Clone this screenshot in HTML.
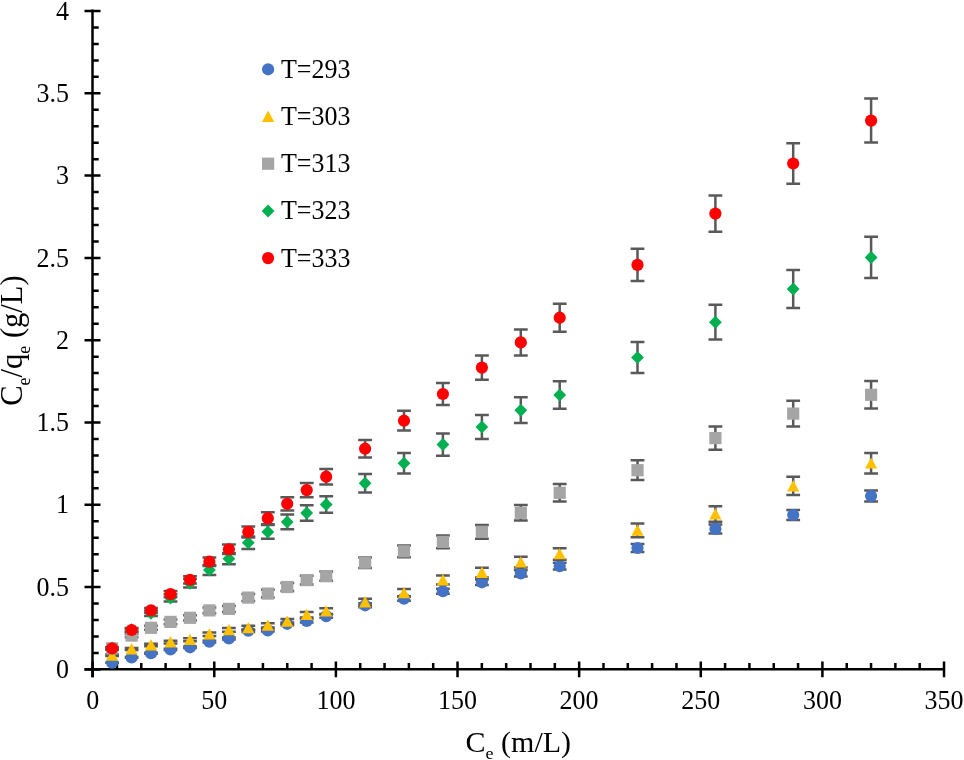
<!DOCTYPE html>
<html><head><meta charset="utf-8"><title>Langmuir isotherm</title>
<style>
html,body{margin:0;padding:0;background:#fff;}
svg{display:block;will-change:transform;}
text{font-family:"Liberation Serif",serif;fill:#000;}
</style></head><body>
<svg width="964" height="760" viewBox="0 0 964 760">
<rect width="964" height="760" fill="#fff"/>

<g stroke="#000" stroke-width="2.5" fill="none">
<path d="M92.5 9.6V677.3"/>
<path d="M84.5 669.3H945.0"/>
<path d="M84.5 669.40H100.5M92.5 652.94H98.7M92.5 636.48H98.7M92.5 620.02H98.7M92.5 603.56H98.7M84.5 587.10H100.5M92.5 570.64H98.7M92.5 554.18H98.7M92.5 537.72H98.7M92.5 521.26H98.7M84.5 504.80H100.5M92.5 488.34H98.7M92.5 471.88H98.7M92.5 455.42H98.7M92.5 438.96H98.7M84.5 422.50H100.5M92.5 406.04H98.7M92.5 389.58H98.7M92.5 373.12H98.7M92.5 356.66H98.7M84.5 340.20H100.5M92.5 323.74H98.7M92.5 307.28H98.7M92.5 290.82H98.7M92.5 274.36H98.7M84.5 257.90H100.5M92.5 241.44H98.7M92.5 224.98H98.7M92.5 208.52H98.7M92.5 192.06H98.7M84.5 175.60H100.5M92.5 159.14H98.7M92.5 142.68H98.7M92.5 126.22H98.7M92.5 109.76H98.7M84.5 93.30H100.5M92.5 76.84H98.7M92.5 60.38H98.7M92.5 43.92H98.7M92.5 27.46H98.7M84.5 11.00H100.5M92.65 661.6V677.3M116.98 663.1V669.3M141.30 663.1V669.3M165.62 663.1V669.3M189.95 663.1V669.3M214.28 661.6V677.3M238.60 663.1V669.3M262.93 663.1V669.3M287.25 663.1V669.3M311.58 663.1V669.3M335.90 661.6V677.3M360.23 663.1V669.3M384.55 663.1V669.3M408.88 663.1V669.3M433.20 663.1V669.3M457.52 661.6V677.3M481.85 663.1V669.3M506.18 663.1V669.3M530.50 663.1V669.3M554.83 663.1V669.3M579.15 661.6V677.3M603.48 663.1V669.3M627.80 663.1V669.3M652.12 663.1V669.3M676.45 663.1V669.3M700.77 661.6V677.3M725.10 663.1V669.3M749.42 663.1V669.3M773.75 663.1V669.3M798.08 663.1V669.3M822.40 661.6V677.3M846.73 663.1V669.3M871.05 663.1V669.3M895.38 663.1V669.3M919.70 663.1V669.3M944.02 661.6V677.3"/>
</g>
<g id="blue">
<path d="M112.1 662.4V662.8M105.2 662.4h13.8M105.2 662.8h13.8M131.6 657.1V657.8M124.7 657.1h13.8M124.7 657.8h13.8M151.0 652.7V653.7M144.1 652.7h13.8M144.1 653.7h13.8M170.5 648.8V650.0M163.6 648.8h13.8M163.6 650.0h13.8M190.0 646.6V648.0M183.1 646.6h13.8M183.1 648.0h13.8M209.4 640.7V642.5M202.5 640.7h13.8M202.5 642.5h13.8M228.9 637.4V639.4M222.0 637.4h13.8M222.0 639.4h13.8M248.3 629.5V632.0M241.4 629.5h13.8M241.4 632.0h13.8M267.8 629.2V631.6M260.9 629.2h13.8M260.9 631.6h13.8M287.2 622.4V625.3M280.4 622.4h13.8M280.4 625.3h13.8M306.7 619.3V622.4M299.8 619.3h13.8M299.8 622.4h13.8M326.2 614.4V617.8M319.3 614.4h13.8M319.3 617.8h13.8M365.1 603.3V607.3M358.2 603.3h13.8M358.2 607.3h13.8M404.0 596.3V600.8M397.1 596.3h13.8M397.1 600.8h13.8M442.9 588.7V593.7M436.0 588.7h13.8M436.0 593.7h13.8M481.9 579.5V585.0M475.0 579.5h13.8M475.0 585.0h13.8M520.8 570.3V576.4M513.9 570.3h13.8M513.9 576.4h13.8M559.7 562.8V569.4M552.8 562.8h13.8M552.8 569.4h13.8M637.5 544.1V551.9M630.6 544.1h13.8M630.6 551.9h13.8M715.4 524.4V533.4M708.5 524.4h13.8M708.5 533.4h13.8M793.2 510.1V519.9M786.3 510.1h13.8M786.3 519.9h13.8M871.1 490.4V501.5M864.2 490.4h13.8M864.2 501.5h13.8" stroke="#595959" stroke-width="2.5" fill="none"/>
<circle cx="112.1" cy="662.6" r="6.1" fill="#4472C4"/>
<circle cx="131.6" cy="657.5" r="6.1" fill="#4472C4"/>
<circle cx="151.0" cy="653.2" r="6.1" fill="#4472C4"/>
<circle cx="170.5" cy="649.4" r="6.1" fill="#4472C4"/>
<circle cx="190.0" cy="647.3" r="6.1" fill="#4472C4"/>
<circle cx="209.4" cy="641.6" r="6.1" fill="#4472C4"/>
<circle cx="228.9" cy="638.4" r="6.1" fill="#4472C4"/>
<circle cx="248.3" cy="630.7" r="6.1" fill="#4472C4"/>
<circle cx="267.8" cy="630.4" r="6.1" fill="#4472C4"/>
<circle cx="287.2" cy="623.8" r="6.1" fill="#4472C4"/>
<circle cx="306.7" cy="620.9" r="6.1" fill="#4472C4"/>
<circle cx="326.2" cy="616.1" r="6.1" fill="#4472C4"/>
<circle cx="365.1" cy="605.3" r="6.1" fill="#4472C4"/>
<circle cx="404.0" cy="598.6" r="6.1" fill="#4472C4"/>
<circle cx="442.9" cy="591.2" r="6.1" fill="#4472C4"/>
<circle cx="481.9" cy="582.3" r="6.1" fill="#4472C4"/>
<circle cx="520.8" cy="573.4" r="6.1" fill="#4472C4"/>
<circle cx="559.7" cy="566.1" r="6.1" fill="#4472C4"/>
<circle cx="637.5" cy="548.0" r="6.1" fill="#4472C4"/>
<circle cx="715.4" cy="528.9" r="6.1" fill="#4472C4"/>
<circle cx="793.2" cy="515.0" r="6.1" fill="#4472C4"/>
<circle cx="871.1" cy="496.0" r="6.1" fill="#4472C4"/>
</g>
<g id="yellow">
<path d="M112.1 654.6V655.9M105.2 654.6h13.8M105.2 655.9h13.8M131.6 648.0V650.0M124.7 648.0h13.8M124.7 650.0h13.8M151.0 643.8V646.2M144.1 643.8h13.8M144.1 646.2h13.8M170.5 640.7V643.4M163.6 640.7h13.8M163.6 643.4h13.8M190.0 638.2V641.2M183.1 638.2h13.8M183.1 641.2h13.8M209.4 632.4V635.9M202.5 632.4h13.8M202.5 635.9h13.8M228.9 627.9V631.8M222.0 627.9h13.8M222.0 631.8h13.8M248.3 625.8V630.0M241.4 625.8h13.8M241.4 630.0h13.8M267.8 623.2V627.6M260.9 623.2h13.8M260.9 627.6h13.8M287.2 618.9V623.7M280.4 618.9h13.8M280.4 623.7h13.8M306.7 612.0V617.4M299.8 612.0h13.8M299.8 617.4h13.8M326.2 608.2V614.0M319.3 608.2h13.8M319.3 614.0h13.8M365.1 598.7V605.4M358.2 598.7h13.8M358.2 605.4h13.8M404.0 589.0V596.7M397.1 589.0h13.8M397.1 596.7h13.8M442.9 575.6V584.5M436.0 575.6h13.8M436.0 584.5h13.8M481.9 567.7V577.4M475.0 567.7h13.8M475.0 577.4h13.8M520.8 556.8V567.5M513.9 556.8h13.8M513.9 567.5h13.8M559.7 548.2V559.7M552.8 548.2h13.8M552.8 559.7h13.8M637.5 523.4V537.2M630.6 523.4h13.8M630.6 537.2h13.8M715.4 506.3V521.8M708.5 506.3h13.8M708.5 521.8h13.8M793.2 476.8V495.1M786.3 476.8h13.8M786.3 495.1h13.8M871.1 453.0V473.5M864.2 453.0h13.8M864.2 473.5h13.8" stroke="#595959" stroke-width="2.5" fill="none"/>
<path d="M112.1 649.4L118.2 660.7H106.0Z" fill="#FFC000"/>
<path d="M131.6 643.1L137.7 654.4H125.5Z" fill="#FFC000"/>
<path d="M151.0 639.1L157.1 650.4H144.9Z" fill="#FFC000"/>
<path d="M170.5 636.1L176.6 647.4H164.4Z" fill="#FFC000"/>
<path d="M190.0 633.8L196.1 645.1H183.9Z" fill="#FFC000"/>
<path d="M209.4 628.3L215.5 639.6H203.3Z" fill="#FFC000"/>
<path d="M228.9 623.9L235.0 635.2H222.8Z" fill="#FFC000"/>
<path d="M248.3 622.0L254.4 633.3H242.2Z" fill="#FFC000"/>
<path d="M267.8 619.5L273.9 630.8H261.7Z" fill="#FFC000"/>
<path d="M287.2 615.4L293.4 626.7H281.1Z" fill="#FFC000"/>
<path d="M306.7 608.8L312.8 620.1H300.6Z" fill="#FFC000"/>
<path d="M326.2 605.2L332.3 616.5H320.1Z" fill="#FFC000"/>
<path d="M365.1 596.1L371.2 607.4H359.0Z" fill="#FFC000"/>
<path d="M404.0 587.0L410.1 598.3H397.9Z" fill="#FFC000"/>
<path d="M442.9 574.1L449.0 585.4H436.8Z" fill="#FFC000"/>
<path d="M481.9 566.6L488.0 577.9H475.8Z" fill="#FFC000"/>
<path d="M520.8 556.3L526.9 567.6H514.7Z" fill="#FFC000"/>
<path d="M559.7 548.0L565.8 559.3H553.6Z" fill="#FFC000"/>
<path d="M637.5 524.4L643.6 535.7H631.4Z" fill="#FFC000"/>
<path d="M715.4 508.1L721.5 519.4H709.3Z" fill="#FFC000"/>
<path d="M793.2 480.1L799.3 491.4H787.1Z" fill="#FFC000"/>
<path d="M871.1 457.4L877.2 468.6H865.0Z" fill="#FFC000"/>
</g>
<g id="gray">
<path d="M112.1 647.4V649.5M105.2 647.4h13.8M105.2 649.5h13.8M131.6 633.9V637.3M124.7 633.9h13.8M124.7 637.3h13.8M151.0 625.7V629.8M144.1 625.7h13.8M144.1 629.8h13.8M170.5 619.6V624.3M163.6 619.6h13.8M163.6 624.3h13.8M190.0 615.2V620.4M183.1 615.2h13.8M183.1 620.4h13.8M209.4 607.5V613.3M202.5 607.5h13.8M202.5 613.3h13.8M228.9 605.9V611.9M222.0 605.9h13.8M222.0 611.9h13.8M248.3 594.0V601.1M241.4 594.0h13.8M241.4 601.1h13.8M267.8 589.8V597.4M260.9 589.8h13.8M260.9 597.4h13.8M287.2 582.9V591.1M280.4 582.9h13.8M280.4 591.1h13.8M306.7 575.7V584.6M299.8 575.7h13.8M299.8 584.6h13.8M326.2 571.5V580.8M319.3 571.5h13.8M319.3 580.8h13.8M365.1 557.4V568.0M358.2 557.4h13.8M358.2 568.0h13.8M404.0 545.4V557.2M397.1 545.4h13.8M397.1 557.2h13.8M442.9 535.6V548.3M436.0 535.6h13.8M436.0 548.3h13.8M481.9 524.9V538.7M475.0 524.9h13.8M475.0 538.7h13.8M520.8 505.0V520.6M513.9 505.0h13.8M513.9 520.6h13.8M559.7 484.0V501.6M552.8 484.0h13.8M552.8 501.6h13.8M637.5 460.2V480.1M630.6 460.2h13.8M630.6 480.1h13.8M715.4 426.6V449.7M708.5 426.6h13.8M708.5 449.7h13.8M793.2 400.8V426.4M786.3 400.8h13.8M786.3 426.4h13.8M871.1 381.1V408.5M864.2 381.1h13.8M864.2 408.5h13.8" stroke="#595959" stroke-width="2.5" fill="none"/>
<rect x="106.0" y="642.3" width="12.2" height="12.2" fill="#A5A5A5"/>
<rect x="125.5" y="629.5" width="12.2" height="12.2" fill="#A5A5A5"/>
<rect x="144.9" y="621.7" width="12.2" height="12.2" fill="#A5A5A5"/>
<rect x="164.4" y="615.8" width="12.2" height="12.2" fill="#A5A5A5"/>
<rect x="183.9" y="611.7" width="12.2" height="12.2" fill="#A5A5A5"/>
<rect x="203.3" y="604.3" width="12.2" height="12.2" fill="#A5A5A5"/>
<rect x="222.8" y="602.8" width="12.2" height="12.2" fill="#A5A5A5"/>
<rect x="242.2" y="591.5" width="12.2" height="12.2" fill="#A5A5A5"/>
<rect x="261.7" y="587.5" width="12.2" height="12.2" fill="#A5A5A5"/>
<rect x="281.1" y="580.9" width="12.2" height="12.2" fill="#A5A5A5"/>
<rect x="300.6" y="574.0" width="12.2" height="12.2" fill="#A5A5A5"/>
<rect x="320.1" y="570.1" width="12.2" height="12.2" fill="#A5A5A5"/>
<rect x="359.0" y="556.6" width="12.2" height="12.2" fill="#A5A5A5"/>
<rect x="397.9" y="545.2" width="12.2" height="12.2" fill="#A5A5A5"/>
<rect x="436.8" y="535.8" width="12.2" height="12.2" fill="#A5A5A5"/>
<rect x="475.8" y="525.7" width="12.2" height="12.2" fill="#A5A5A5"/>
<rect x="514.7" y="506.7" width="12.2" height="12.2" fill="#A5A5A5"/>
<rect x="553.6" y="486.7" width="12.2" height="12.2" fill="#A5A5A5"/>
<rect x="631.4" y="464.1" width="12.2" height="12.2" fill="#A5A5A5"/>
<rect x="709.3" y="432.0" width="12.2" height="12.2" fill="#A5A5A5"/>
<rect x="787.1" y="407.5" width="12.2" height="12.2" fill="#A5A5A5"/>
<rect x="865.0" y="388.7" width="12.2" height="12.2" fill="#A5A5A5"/>
</g>
<g id="green">
<path d="M112.1 647.2V649.3M105.2 647.2h13.8M105.2 649.3h13.8M131.6 627.9V631.8M124.7 627.9h13.8M124.7 631.8h13.8M151.0 610.4V616.0M144.1 610.4h13.8M144.1 616.0h13.8M170.5 594.3V601.4M163.6 594.3h13.8M163.6 601.4h13.8M190.0 579.0V587.5M183.1 579.0h13.8M183.1 587.5h13.8M209.4 565.1V575.0M202.5 565.1h13.8M202.5 575.0h13.8M228.9 553.2V564.2M222.0 553.2h13.8M222.0 564.2h13.8M248.3 536.5V549.1M241.4 536.5h13.8M241.4 549.1h13.8M267.8 525.0V538.7M260.9 525.0h13.8M260.9 538.7h13.8M287.2 514.5V529.3M280.4 514.5h13.8M280.4 529.3h13.8M306.7 505.2V520.8M299.8 505.2h13.8M299.8 520.8h13.8M326.2 496.3V512.7M319.3 496.3h13.8M319.3 512.7h13.8M365.1 474.0V492.6M358.2 474.0h13.8M358.2 492.6h13.8M404.0 453.0V473.6M397.1 453.0h13.8M397.1 473.6h13.8M442.9 433.4V455.8M436.0 433.4h13.8M436.0 455.8h13.8M481.9 414.9V439.1M475.0 414.9h13.8M475.0 439.1h13.8M520.8 397.3V423.1M513.9 397.3h13.8M513.9 423.1h13.8M559.7 381.3V408.7M552.8 381.3h13.8M552.8 408.7h13.8M637.5 342.0V373.1M630.6 342.0h13.8M630.6 373.1h13.8M715.4 304.8V339.5M708.5 304.8h13.8M708.5 339.5h13.8M793.2 269.9V307.9M786.3 269.9h13.8M786.3 307.9h13.8M871.1 236.8V278.0M864.2 236.8h13.8M864.2 278.0h13.8" stroke="#595959" stroke-width="2.5" fill="none"/>
<path d="M112.1 641.8L118.5 648.3L112.1 654.8L105.7 648.3Z" fill="#00B050"/>
<path d="M131.6 623.3L138.0 629.8L131.6 636.3L125.2 629.8Z" fill="#00B050"/>
<path d="M151.0 606.7L157.4 613.2L151.0 619.7L144.6 613.2Z" fill="#00B050"/>
<path d="M170.5 591.4L176.9 597.9L170.5 604.4L164.1 597.9Z" fill="#00B050"/>
<path d="M190.0 576.7L196.4 583.2L190.0 589.7L183.6 583.2Z" fill="#00B050"/>
<path d="M209.4 563.6L215.8 570.1L209.4 576.6L203.0 570.1Z" fill="#00B050"/>
<path d="M228.9 552.2L235.3 558.7L228.9 565.2L222.5 558.7Z" fill="#00B050"/>
<path d="M248.3 536.3L254.7 542.8L248.3 549.3L241.9 542.8Z" fill="#00B050"/>
<path d="M267.8 525.4L274.2 531.9L267.8 538.4L261.4 531.9Z" fill="#00B050"/>
<path d="M287.2 515.4L293.6 521.9L287.2 528.4L280.9 521.9Z" fill="#00B050"/>
<path d="M306.7 506.5L313.1 513.0L306.7 519.5L300.3 513.0Z" fill="#00B050"/>
<path d="M326.2 498.0L332.6 504.5L326.2 511.0L319.8 504.5Z" fill="#00B050"/>
<path d="M365.1 476.8L371.5 483.3L365.1 489.8L358.7 483.3Z" fill="#00B050"/>
<path d="M404.0 456.8L410.4 463.3L404.0 469.8L397.6 463.3Z" fill="#00B050"/>
<path d="M442.9 438.1L449.3 444.6L442.9 451.1L436.5 444.6Z" fill="#00B050"/>
<path d="M481.9 420.5L488.2 427.0L481.9 433.5L475.5 427.0Z" fill="#00B050"/>
<path d="M520.8 403.7L527.2 410.2L520.8 416.7L514.4 410.2Z" fill="#00B050"/>
<path d="M559.7 388.5L566.1 395.0L559.7 401.5L553.3 395.0Z" fill="#00B050"/>
<path d="M637.5 351.1L643.9 357.6L637.5 364.1L631.1 357.6Z" fill="#00B050"/>
<path d="M715.4 315.7L721.8 322.2L715.4 328.7L709.0 322.2Z" fill="#00B050"/>
<path d="M793.2 282.4L799.6 288.9L793.2 295.4L786.8 288.9Z" fill="#00B050"/>
<path d="M871.1 250.9L877.5 257.4L871.1 263.9L864.7 257.4Z" fill="#00B050"/>
</g>
<g id="red">
<path d="M112.1 647.6V649.2M105.2 647.6h13.8M105.2 649.2h13.8M131.6 628.4V631.6M124.7 628.4h13.8M124.7 631.6h13.8M151.0 608.1V612.7M144.1 608.1h13.8M144.1 612.7h13.8M170.5 591.1V597.1M163.6 591.1h13.8M163.6 597.1h13.8M190.0 576.2V583.4M183.1 576.2h13.8M183.1 583.4h13.8M209.4 557.4V566.0M202.5 557.4h13.8M202.5 566.0h13.8M228.9 544.5V554.1M222.0 544.5h13.8M222.0 554.1h13.8M248.3 526.4V537.4M241.4 526.4h13.8M241.4 537.4h13.8M267.8 512.2V524.3M260.9 512.2h13.8M260.9 524.3h13.8M287.2 497.2V510.4M280.4 497.2h13.8M280.4 510.4h13.8M306.7 483.0V497.3M299.8 483.0h13.8M299.8 497.3h13.8M326.2 469.1V484.4M319.3 469.1h13.8M319.3 484.4h13.8M365.1 439.9V457.5M358.2 439.9h13.8M358.2 457.5h13.8M404.0 410.8V430.6M397.1 410.8h13.8M397.1 430.6h13.8M442.9 383.0V405.0M436.0 383.0h13.8M436.0 405.0h13.8M481.9 355.6V379.7M475.0 355.6h13.8M475.0 379.7h13.8M520.8 329.4V355.5M513.9 329.4h13.8M513.9 355.5h13.8M559.7 303.7V331.8M552.8 303.7h13.8M552.8 331.8h13.8M637.5 248.7V281.1M630.6 248.7h13.8M630.6 281.1h13.8M715.4 195.4V231.8M708.5 195.4h13.8M708.5 231.8h13.8M793.2 143.3V183.7M786.3 143.3h13.8M786.3 183.7h13.8M871.1 98.6V142.5M864.2 98.6h13.8M864.2 142.5h13.8" stroke="#595959" stroke-width="2.5" fill="none"/>
<circle cx="112.1" cy="648.4" r="6.1" fill="#FF0000"/>
<circle cx="131.6" cy="630.0" r="6.1" fill="#FF0000"/>
<circle cx="151.0" cy="610.4" r="6.1" fill="#FF0000"/>
<circle cx="170.5" cy="594.1" r="6.1" fill="#FF0000"/>
<circle cx="190.0" cy="579.8" r="6.1" fill="#FF0000"/>
<circle cx="209.4" cy="561.7" r="6.1" fill="#FF0000"/>
<circle cx="228.9" cy="549.3" r="6.1" fill="#FF0000"/>
<circle cx="248.3" cy="531.9" r="6.1" fill="#FF0000"/>
<circle cx="267.8" cy="518.2" r="6.1" fill="#FF0000"/>
<circle cx="287.2" cy="503.8" r="6.1" fill="#FF0000"/>
<circle cx="306.7" cy="490.1" r="6.1" fill="#FF0000"/>
<circle cx="326.2" cy="476.7" r="6.1" fill="#FF0000"/>
<circle cx="365.1" cy="448.7" r="6.1" fill="#FF0000"/>
<circle cx="404.0" cy="420.7" r="6.1" fill="#FF0000"/>
<circle cx="442.9" cy="394.0" r="6.1" fill="#FF0000"/>
<circle cx="481.9" cy="367.6" r="6.1" fill="#FF0000"/>
<circle cx="520.8" cy="342.4" r="6.1" fill="#FF0000"/>
<circle cx="559.7" cy="317.7" r="6.1" fill="#FF0000"/>
<circle cx="637.5" cy="264.9" r="6.1" fill="#FF0000"/>
<circle cx="715.4" cy="213.6" r="6.1" fill="#FF0000"/>
<circle cx="793.2" cy="163.5" r="6.1" fill="#FF0000"/>
<circle cx="871.1" cy="120.6" r="6.1" fill="#FF0000"/>
</g>
<g id="ticklabels">
<text transform="translate(69.0,678.0) scale(1,1.07)" font-size="26" text-anchor="end">0</text>
<text transform="translate(69.0,595.7) scale(1,1.07)" font-size="26" text-anchor="end">0.5</text>
<text transform="translate(69.0,513.4) scale(1,1.07)" font-size="26" text-anchor="end">1</text>
<text transform="translate(69.0,431.1) scale(1,1.07)" font-size="26" text-anchor="end">1.5</text>
<text transform="translate(69.0,348.8) scale(1,1.07)" font-size="26" text-anchor="end">2</text>
<text transform="translate(69.0,266.5) scale(1,1.07)" font-size="26" text-anchor="end">2.5</text>
<text transform="translate(69.0,184.2) scale(1,1.07)" font-size="26" text-anchor="end">3</text>
<text transform="translate(69.0,101.9) scale(1,1.07)" font-size="26" text-anchor="end">3.5</text>
<text transform="translate(69.0,19.6) scale(1,1.07)" font-size="26" text-anchor="end">4</text>
<text transform="translate(92.7,709.2) scale(1,1.07)" font-size="26" text-anchor="middle">0</text>
<text transform="translate(214.3,709.2) scale(1,1.07)" font-size="26" text-anchor="middle">50</text>
<text transform="translate(335.9,709.2) scale(1,1.07)" font-size="26" text-anchor="middle">100</text>
<text transform="translate(457.5,709.2) scale(1,1.07)" font-size="26" text-anchor="middle">150</text>
<text transform="translate(579.1,709.2) scale(1,1.07)" font-size="26" text-anchor="middle">200</text>
<text transform="translate(700.8,709.2) scale(1,1.07)" font-size="26" text-anchor="middle">250</text>
<text transform="translate(822.4,709.2) scale(1,1.07)" font-size="26" text-anchor="middle">300</text>
<text transform="translate(944.0,709.2) scale(1,1.07)" font-size="26" text-anchor="middle">350</text>
</g>
<text transform="translate(518.3,751.5) scale(1,0.985)" font-size="30" text-anchor="middle">C<tspan font-size="18" dy="7.6">e</tspan><tspan dy="-7.6"> (m/L)</tspan></text>
<text transform="translate(22.4,340.6) rotate(-90) scale(1,1.02)" font-size="30.5" text-anchor="middle">C<tspan font-size="18" dy="7.6">e</tspan><tspan dy="-7.6">/q</tspan><tspan font-size="18" dy="7.6">e</tspan><tspan dy="-7.6"> (g/L)</tspan></text>
<g id="legend">
<circle cx="268.1" cy="69.3" r="6.1" fill="#4472C4"/>
<text transform="translate(281.0,77.8) scale(1,1.07)" font-size="26" text-anchor="start">T=293</text>
<path d="M268.1 110.6L274.2 121.9H262.0Z" fill="#FFC000"/>
<text transform="translate(281.0,125.0) scale(1,1.07)" font-size="26" text-anchor="start">T=303</text>
<rect x="262.0" y="157.6" width="12.2" height="12.2" fill="#A5A5A5"/>
<text transform="translate(281.0,172.2) scale(1,1.07)" font-size="26" text-anchor="start">T=313</text>
<path d="M268.1 204.4L274.5 210.9L268.1 217.4L261.7 210.9Z" fill="#00B050"/>
<text transform="translate(281.0,219.4) scale(1,1.07)" font-size="26" text-anchor="start">T=323</text>
<circle cx="268.1" cy="258.1" r="6.1" fill="#FF0000"/>
<text transform="translate(281.0,266.6) scale(1,1.07)" font-size="26" text-anchor="start">T=333</text>
</g>
</svg>
</body></html>
